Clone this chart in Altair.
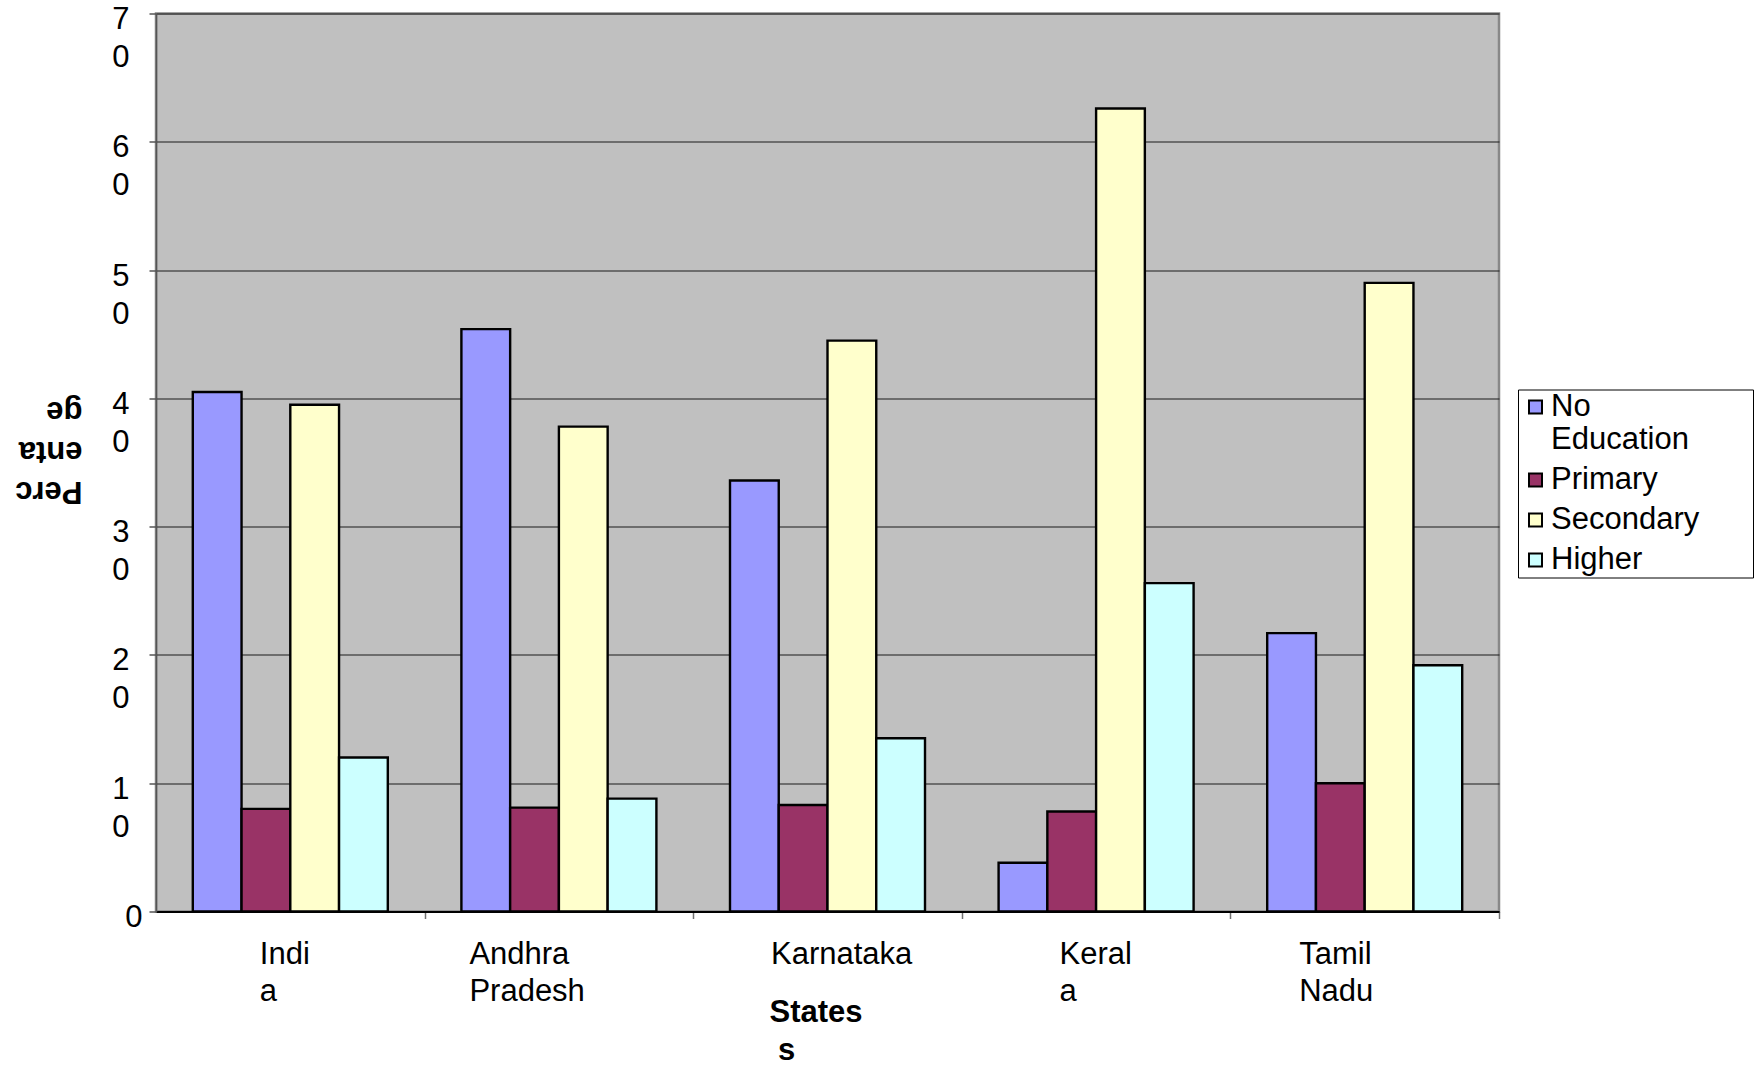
import altair as alt
import pandas as pd

# Education level of the population by state (%)
states = ["India", "Andhra Pradesh", "Karnataka", "Kerala", "Tamil Nadu"]
levels = ["No Education", "Primary", "Secondary", "Higher"]
no_education = [40.5, 45.4, 33.6, 3.8, 21.7]
primary = [8.0, 8.1, 8.3, 7.8, 10.0]
secondary = [39.5, 37.8, 44.5, 62.6, 49.0]
higher = [12.0, 8.8, 13.5, 25.6, 19.2]
level_colors = ["#9999FF", "#993366", "#FFFFCC", "#CCFFFF"]
y_ticks = [0, 10, 20, 30, 40, 50, 60, 70]

# wrapped category labels as they appear under the axis
state_label_lines = {
    "India": ["Indi", "a"],
    "Andhra Pradesh": ["Andhra", "Pradesh"],
    "Karnataka": ["Karnataka"],
    "Kerala": ["Keral", "a"],
    "Tamil Nadu": ["Tamil", "Nadu"],
}

rows = []
for level, values in zip(levels, [no_education, primary, secondary, higher]):
    for state, v in zip(states, values):
        rows.append({"state": state, "level": level, "pct": v})
df = pd.DataFrame(rows)

FONT = "Liberation Sans"
STEP = 1343 / 5                    # width of one category slot
PAD_INNER = 0.274
HALF_GAP = STEP * PAD_INNER / 2    # shift from band edge to slot boundary

# left-aligned label blocks, nudged relative to the band centre
label_shift = {
    "India": -31,
    "Andhra Pradesh": -90,
    "Karnataka": -57,
    "Kerala": -37,
    "Tamil Nadu": -66,
}

NBSP = "\u00a0"
ZWSP = "\u200b"   # keeps leading/trailing spaces from being trimmed


def lines_literal(lines):
    return "[" + ", ".join("'" + s + "'" for s in lines) + "]"


x_label_expr = ""
for name, lines in state_label_lines.items():
    x_label_expr += f"datum.label == '{name}' ? {lines_literal(lines)} : "
x_label_expr += "datum.label"

x_label_offset = {
    "condition": [
        {"test": f"datum.value == '{name}'", "value": shift - HALF_GAP}
        for name, shift in label_shift.items()
    ],
    "value": -HALF_GAP,
}

y_label_expr = (
    "datum.value == 0 ? '0' : "
    "[substring(datum.label, 0, 1), substring(datum.label, 1, 2)]"
)

# legend text: wrapped first entry, widest entry padded so the box keeps its width
legend_label_expr = (
    "datum.label == 'No Education' ? ['No', 'Education'] : "
    f"datum.label == 'Secondary' ? 'Secondary{NBSP * 6}{ZWSP}' : datum.label"
)

bars = alt.Chart(df).mark_bar(stroke="black", strokeWidth=2.4).encode(
    x=alt.X(
        "state:N",
        sort=states,
        scale=alt.Scale(paddingInner=PAD_INNER, paddingOuter=PAD_INNER / 2),
        axis=alt.Axis(
            title=["States", ZWSP + NBSP + "s"],
            titleFont=FONT,
            titleFontSize=31,
            titleFontWeight="bold",
            titleColor="black",
            titleAlign="left",
            titleBaseline="top",
            titleX=613,
            titleY=86,
            titleLineHeight=38,
            labelAngle=0,
            labelExpr=x_label_expr,
            labelFont=FONT,
            labelFontSize=31,
            labelColor="black",
            labelBaseline="top",
            labelAlign="left",
            labelOffset=x_label_offset,
            labelPadding=21,
            labelLineHeight=37,
            labelOverlap=False,
            labelBound=False,
            bandPosition=1,
            tickOffset=HALF_GAP,
            tickSize=7,
            tickColor="#707070",
            tickWidth=1.5,
            domainColor="black",
            domainWidth=2,
            grid=False,
        ),
    ),
    xOffset=alt.XOffset(
        "level:N", sort=levels, scale=alt.Scale(paddingInner=0, paddingOuter=0)
    ),
    y=alt.Y(
        "pct:Q",
        scale=alt.Scale(domain=[0, 70], nice=False),
        axis=alt.Axis(
            values=y_ticks,
            title=["Perc", "enta", "ge"],
            titleFont=FONT,
            titleFontSize=31,
            titleFontWeight="bold",
            titleColor="black",
            titleAngle=180,
            titleAlign="left",
            titleBaseline="top",
            titleX=-74,
            titleY=492,
            titleLineHeight=40,
            labelExpr=y_label_expr,
            labelFont=FONT,
            labelFontSize=31,
            labelColor="black",
            labelBaseline="top",
            labelAlign="right",
            labelOffset=-9,
            labelLineHeight=38,
            labelOverlap=False,
            labelPadding={"condition": {"test": "datum.value == 0", "value": 7}, "value": 20},
            tickSize=7,
            tickColor="#555555",
            tickWidth=1.5,
            domainColor="#555555",
            domainWidth=1.5,
            grid=True,
            gridColor="#1a1a1a",
            gridWidth=1,
        ),
    ),
    color=alt.Color(
        "level:N",
        sort=levels,
        scale=alt.Scale(domain=levels, range=level_colors),
        legend=alt.Legend(
            title=None,
            orient="none",
            legendX=1362,
            legendY=376,
            fillColor="white",
            strokeColor="black",
            padding=2,
            symbolType="square",
            symbolSize=169,
            symbolStrokeColor="black",
            symbolStrokeWidth=2,
            symbolOpacity=1,
            labelExpr=legend_label_expr,
            labelFont=FONT,
            labelFontSize=31,
            labelColor="black",
            labelOffset=0,
            labelLimit=0,
            rowPadding=8,
        ),
    ),
)

chart = (
    bars.properties(
        width=1343,
        height=898,
        autosize=alt.AutoSizeParams(type="none"),
        padding={"left": 156, "top": 13.5, "right": 259, "bottom": 154.5},
        background="white",
    )
    .configure_view(fill="#C0C0C0", stroke="#888888", strokeWidth=2.5)
)

chart.save("out.html", embed_options={"renderer": "svg", "actions": False})
